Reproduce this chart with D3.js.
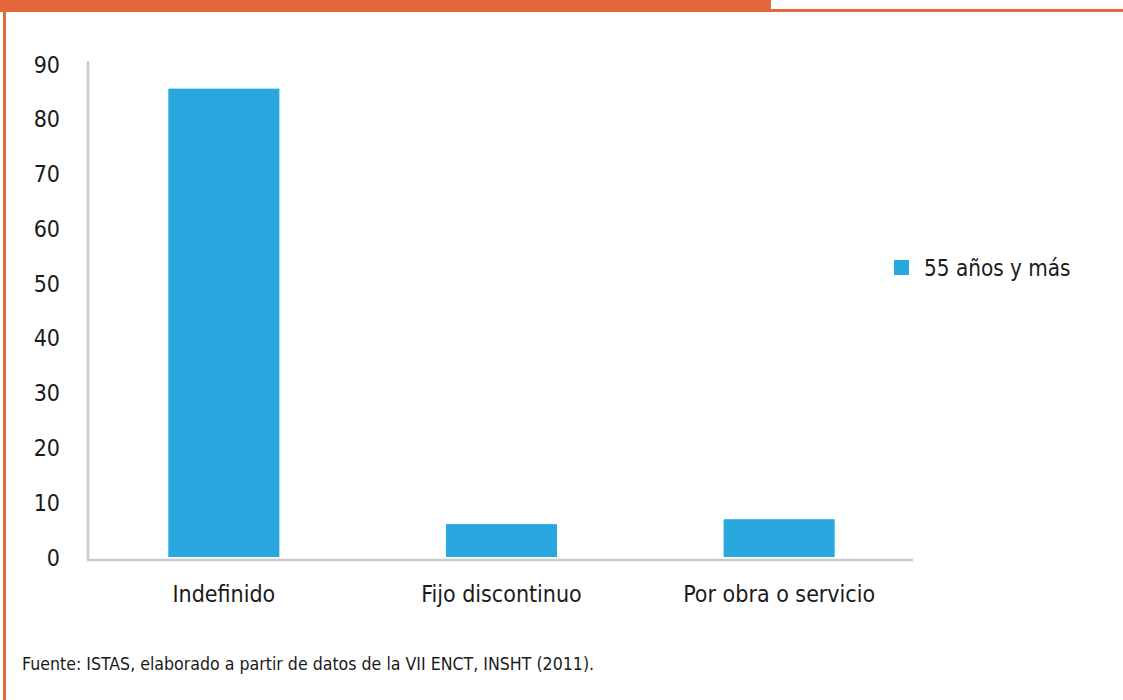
<!DOCTYPE html>
<html>
<head>
<meta charset="utf-8">
<script src="https://cdn.jsdelivr.net/npm/d3@7"></script>
<style>
  body { margin: 0; background: #ffffff; }
  svg text { font-family: "Liberation Sans Narrow", "DejaVu Sans Condensed", sans-serif; fill: #1a1a1a; }
</style>
</head>
<body>
<svg width="1123" height="700"></svg>
<script>
// Chart data.
const categories = ["Indefinido", "Fijo discontinuo", "Por obra o servicio"];
const values = [85.5, 6.0, 6.9];
const seriesName = "55 años y más";
const yTicks = [0, 10, 20, 30, 40, 50, 60, 70, 80, 90];
const sourceText = "Fuente: ISTAS, elaborado a partir de datos de la VII ENCT, INSHT (2011).";

function initGraph() {
  const svg = d3.select("svg");
  const orange = "#e5683a";

  // Orange frame: thick top tab, thin line to the right, left border.
  svg.append("rect").attr("x", 0).attr("y", 0).attr("width", 771).attr("height", 12).attr("fill", orange);
  svg.append("rect").attr("x", 771).attr("y", 9).attr("width", 352).attr("height", 3).attr("fill", orange);
  svg.append("rect").attr("x", 3).attr("y", 0).attr("width", 3).attr("height", 700).attr("fill", orange);

  const xScale = d3.scaleBand()
    .domain(categories)
    .range([85, 918])
    .paddingInner(0.6)
    .paddingOuter(0.3);

  const yScale = d3.scaleLinear()
    .domain([0, 90])
    .range([557, 64]);

  // Y axis: line plus labels, no tick marks.
  const yAxis = d3.axisLeft(yScale).tickValues(yTicks).tickSize(0).tickPadding(0);
  const yG = svg.append("g").attr("transform", "translate(60,0)").call(yAxis);
  yG.select(".domain").remove();
  yG.selectAll("text")
    .attr("font-size", "23px")
    .attr("dy", "0.35em")
    .style("font-family", "'Liberation Sans Narrow', 'DejaVu Sans Condensed', sans-serif")
    .attr("fill", "#1a1a1a");

  svg.append("line")
    .attr("x1", 88).attr("x2", 88)
    .attr("y1", 61).attr("y2", 560)
    .attr("stroke", "#cccccc").attr("stroke-width", 2.5);

  // Bars.
  svg.selectAll("rect.bar")
    .data(values)
    .enter()
    .append("rect")
    .attr("class", "bar")
    .attr("x", (d, i) => xScale(categories[i]))
    .attr("y", d => yScale(d))
    .attr("width", xScale.bandwidth())
    .attr("height", d => yScale(0) - yScale(d))
    .attr("fill", "#29a8e0");

  // X axis.
  const xAxis = d3.axisBottom(xScale).tickSize(0).tickPadding(0);
  const xG = svg.append("g").attr("transform", "translate(0,560)").call(xAxis);
  xG.select(".domain").remove();
  xG.selectAll("text")
    .attr("font-size", "23px")
    .attr("y", 42)
    .attr("dy", 0)
    .style("font-family", "'Liberation Sans Narrow', 'DejaVu Sans Condensed', sans-serif")
    .attr("fill", "#1a1a1a");

  svg.append("line")
    .attr("x1", 87).attr("x2", 913)
    .attr("y1", 560).attr("y2", 560)
    .attr("stroke", "#cccccc").attr("stroke-width", 2.5);

  // Legend.
  const legend = svg.append("g").attr("transform", "translate(894,260)");
  legend.append("rect").attr("width", 15).attr("height", 15).attr("fill", "#29a8e0");
  legend.append("text")
    .attr("x", 30).attr("y", 16)
    .attr("font-size", "22.3px")
    .text(seriesName);

  // Source note.
  svg.append("text")
    .attr("x", 22).attr("y", 670)
    .attr("font-size", "17.6px")
    .text(sourceText);
}

window.addEventListener("load", function() {
  initGraph();
});
</script>
</body>
</html>
